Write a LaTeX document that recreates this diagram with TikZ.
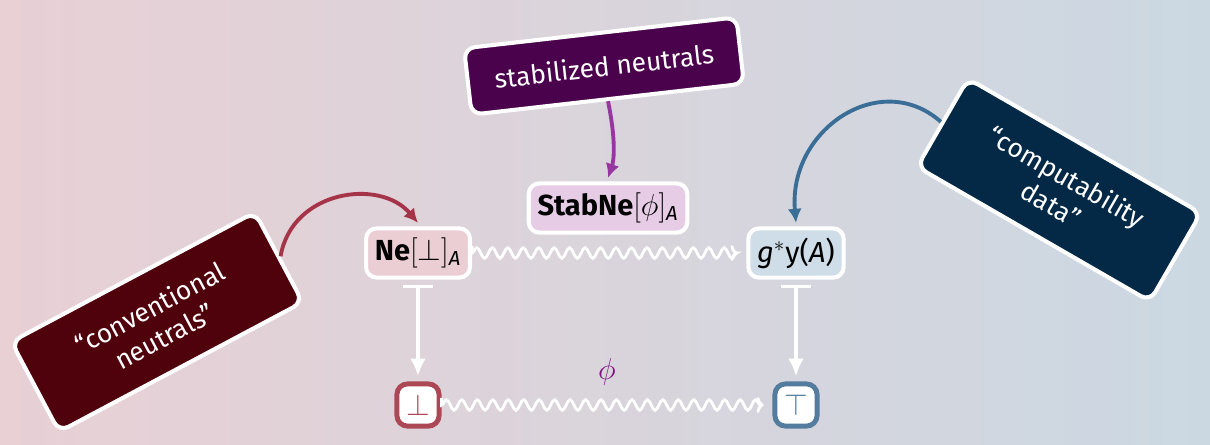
\documentclass[tikz,border=0pt]{standalone}
\usepackage{fontspec}
\setmainfont{Fira Sans}
\usetikzlibrary{arrows.meta,decorations.pathmorphing}
\definecolor{bgleft}{RGB}{232,208,213}
\definecolor{bgright}{RGB}{203,216,226}
\definecolor{nefill}{RGB}{234,206,212}
\definecolor{stabfill}{RGB}{231,204,230}
\definecolor{gyfill}{RGB}{206,221,231}
\definecolor{botred}{RGB}{172,72,86}
\definecolor{topblue}{RGB}{84,124,158}
\definecolor{convdark}{RGB}{80,2,12}
\definecolor{stabdark}{RGB}{74,2,76}
\definecolor{compdark}{RGB}{3,41,70}
\definecolor{arrred}{RGB}{166,52,72}
\definecolor{arrpurple}{RGB}{152,54,160}
\definecolor{arrblue}{RGB}{58,110,150}
\definecolor{phipurple}{RGB}{128,20,130}

\begin{document}
\begin{tikzpicture}[
  x=0.02cm, y=-0.02cm,
  term/.style={rectangle, rounded corners=6pt, draw=white, line width=2.3pt, minimum height=28pt, inner sep=5pt, font=\fontsize{16.5}{19}\selectfont},
  endpt/.style={rectangle, rounded corners=6pt, fill=white, line width=2.8pt, minimum size=24pt, inner sep=0pt, font=\fontsize{17}{19}\selectfont},
  callout/.style={rectangle, rounded corners=6pt, draw=white, line width=2.3pt, text=white, align=center, inner sep=4pt, font=\fontsize{15}{18}\selectfont},
  tag/.style={line width=2.2pt, -{Latex[length=8pt,width=8pt]}},
  mapsto/.style={white, line width=2pt, {Bar[width=17pt]}-{Latex[length=10pt,width=9pt]}, shorten <=3pt, shorten >=3pt},
  wavy/.style={white, line width=1.6pt, -{To[length=4pt,width=9pt]}, decorate, decoration={snake, amplitude=3pt, segment length=8.8pt, post length=3pt}, shorten <=4pt, shorten >=5pt}
]
\useasboundingbox (0,0) rectangle (1210,444);
\shade[left color=bgleft, right color=bgright] (0,0) rectangle (1210,444);

% terms
\node[term, fill=nefill] (ne) at (418,253) {\textbf{Ne}$[\bot]$\textsubscript{\itshape A}};
\node[term, fill=stabfill] (stabne) at (608,208) {\textbf{StabNe}$[\phi]$\textsubscript{\itshape A}};
\node[term, fill=gyfill] (gy) at (796,253) {\textit{g}$^*$y(\textit{A})};
\node[endpt, draw=botred, text=botred] (bot) at (418,405) {$\bot$};
\node[endpt, draw=topblue, text=topblue] (top) at (796,405) {$\top$};

% callouts
\node[callout, fill=convdark, rotate=28, minimum width=157pt, minimum height=58pt] (conv) at (157,322) {``conventional\\neutrals''};
\node[callout, fill=stabdark, rotate=6.5, minimum width=156pt, minimum height=38pt] (stab) at (604,66) {stabilized neutrals};
\node[callout, fill=compdark, rotate=-30, minimum width=153pt, minimum height=58pt] (comp) at (1059,190) {``computability\\data''};

% maps
\draw[mapsto] (ne) -- (bot);
\draw[mapsto] (gy) -- (top);
\draw[wavy] (ne) -- (gy);
\draw[wavy] (bot) -- (top) node[midway, above=7pt, text=phipurple, font=\fontsize{16}{18}\selectfont] {$\phi$};

% pointers
\draw[tag, arrred] (conv.east) .. controls (292,190) and (380,178) .. ([yshift=2pt]ne.north);
\draw[tag, arrpurple] (stab.south) .. controls (616,140) and (614,160) .. ([yshift=2pt]stabne.north);
\draw[tag, arrblue] (comp.west) .. controls (880,68) and (788,130) .. ([yshift=2pt]gy.north);

\end{tikzpicture}
\end{document}
